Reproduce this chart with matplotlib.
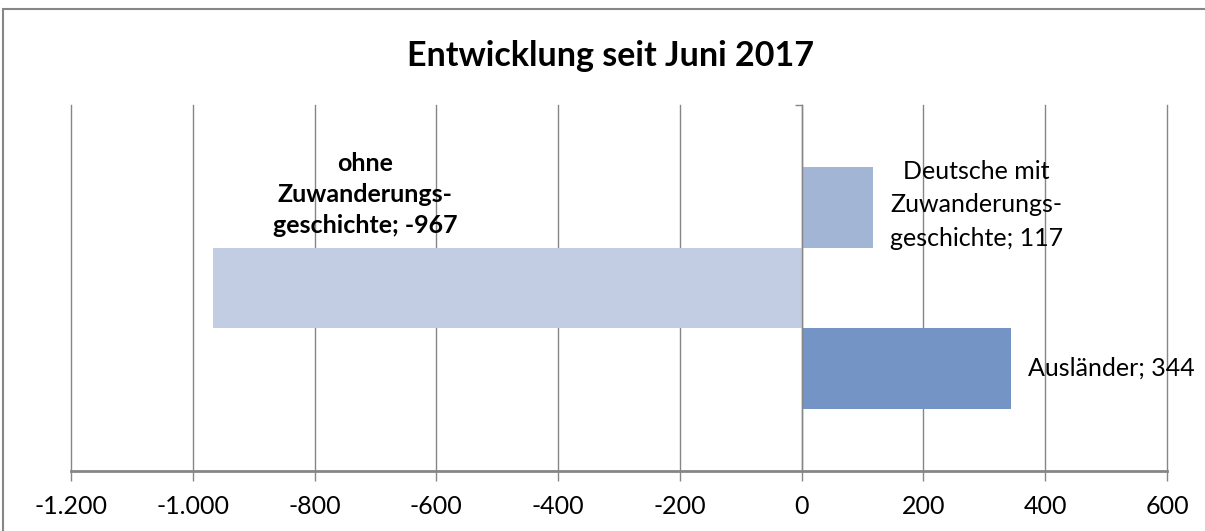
import matplotlib
matplotlib.use("Agg")
import matplotlib.pyplot as plt
from matplotlib.patches import Rectangle
from matplotlib.ticker import FuncFormatter

# data
labels = ["Deutsche mit\nZuwanderungs-\ngeschichte; 117",
          "ohne\nZuwanderungs-\ngeschichte; -967",
          "Ausländer; 344"]
values = [117, -967, 344]
colors = ["#A3B5D5", "#C2CDE3", "#7394C4"]
xticks = [-1200, -1000, -800, -600, -400, -200, 0, 200, 400, 600]

plt.rcParams['font.family'] = ['Lato', 'DejaVu Sans']

fig = plt.figure(figsize=(12.05, 5.31), dpi=100)
ax = fig.add_axes([71/1205, 1 - 471/531, (1167-71)/1205, (471-105)/531])

h = 0.22
ypos = [h, 0, -h]
ax.barh(ypos, values, height=h, color=colors, zorder=2)

ax.set_xlim(-1200, 600)
ax.set_ylim(-0.5, 0.5)
ax.set_xticks(xticks)
ax.xaxis.set_major_formatter(FuncFormatter(lambda v, p: f"{int(v):,}".replace(",", ".")))
ax.grid(axis='x', color='#868686', lw=1, zorder=0)
for gl in ax.get_xgridlines():
    gl.set_clip_on(False)
ax.tick_params(axis='x', length=7, width=1, color='#868686', labelsize=18, pad=10)

for s in ['top', 'right']:
    ax.spines[s].set_visible(False)
ax.spines['bottom'].set_color('#868686')
ax.spines['bottom'].set_linewidth(2)
ax.spines['left'].set_position(('data', 0))
ax.spines['left'].set_color('#868686')
ax.spines['left'].set_linewidth(1)
ax.set_yticks([0.5])
ax.set_yticklabels([])
ax.tick_params(axis='y', length=5, width=1, color='#868686')

# data labels
ax.annotate(labels[0], (values[0], ypos[0]), xytext=(12, 2), textcoords='offset points',
            ha='left', va='center', multialignment='center', fontsize=18, linespacing=1.55)
ax.annotate(labels[2], (values[2], ypos[2]), xytext=(12, 0), textcoords='offset points',
            ha='left', va='center', fontsize=18)
ax.annotate(labels[1], (-717, ypos[1] + h/2), xytext=(0, 8), textcoords='offset points',
            ha='center', va='bottom', multialignment='center', fontsize=18,
            fontweight='bold', linespacing=1.4)

fig.text(0.507, 1 - 56/531, "Entwicklung seit Juni 2017", ha='center', va='center',
         fontsize=24.5, fontweight='bold')

fig.patches.append(Rectangle((3/1205, -0.05), 1.1, 1 - 9/531 + 0.05, transform=fig.transFigure,
                             fill=False, edgecolor='#868686', lw=1.5))

fig.savefig("out.png", dpi=100)
